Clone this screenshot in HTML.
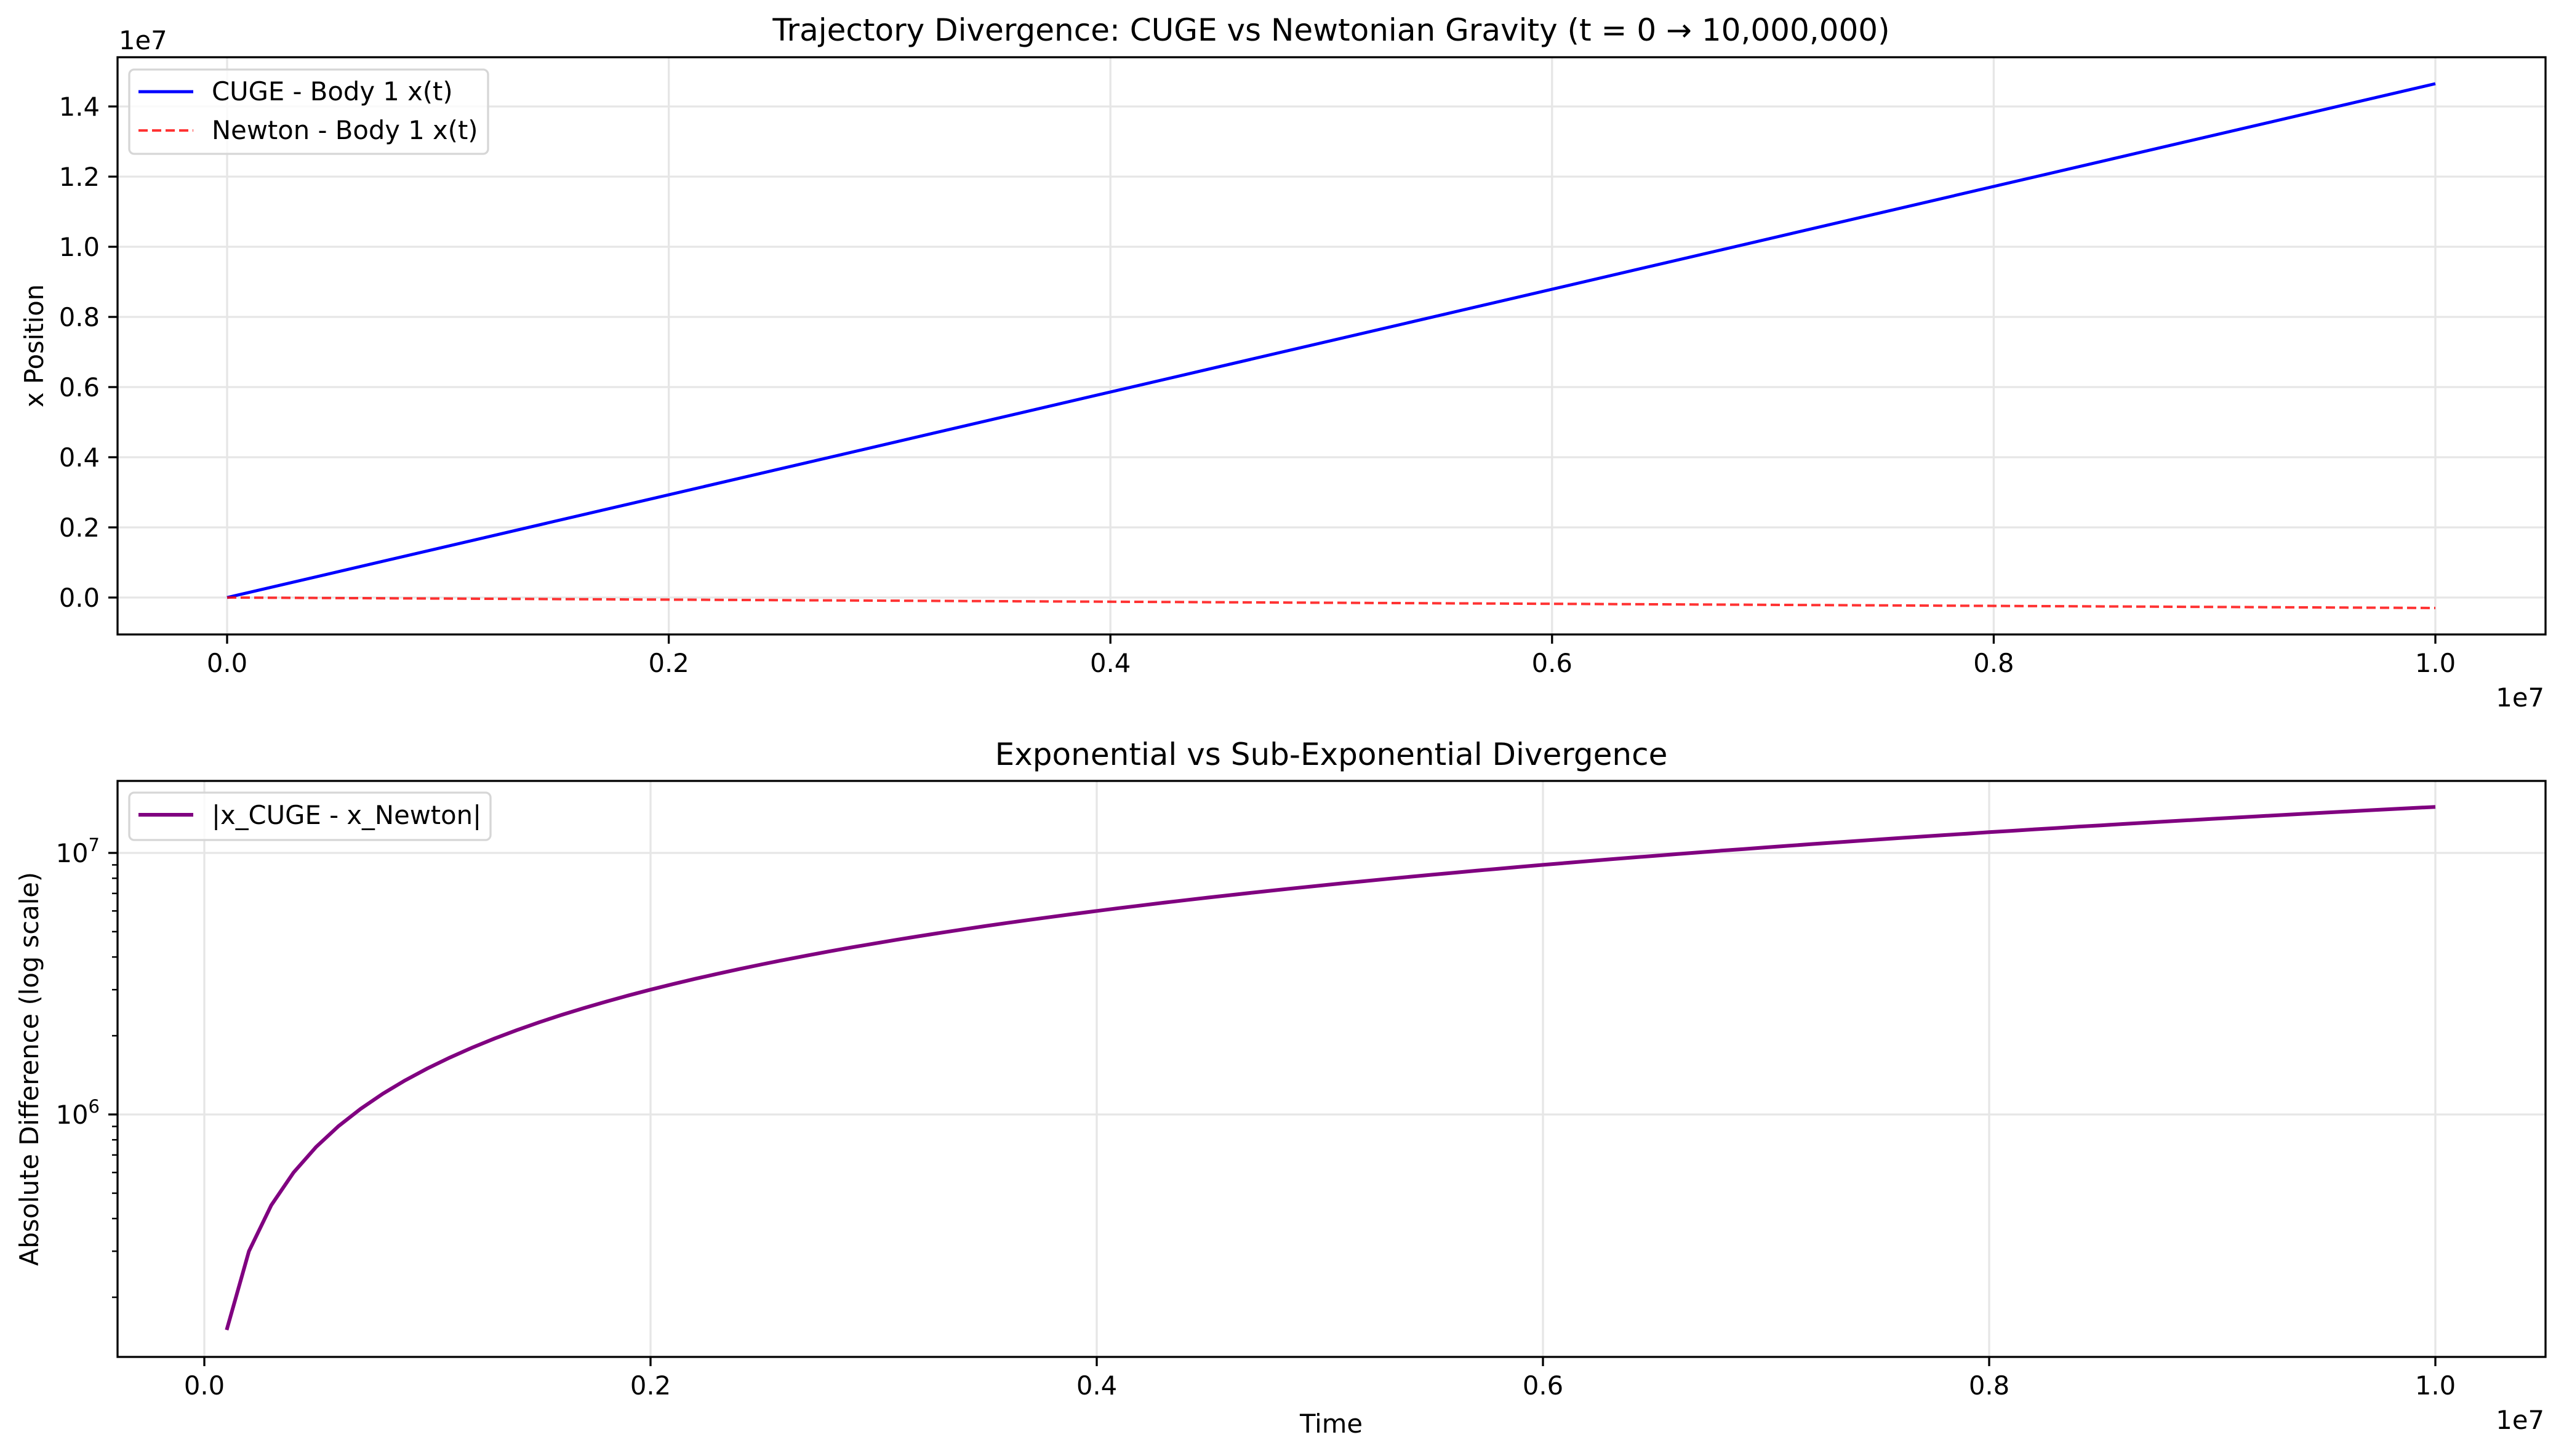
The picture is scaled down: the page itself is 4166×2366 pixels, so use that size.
<!DOCTYPE html>
<html><head><meta charset="utf-8"><style>
html,body{margin:0;padding:0;background:#fff}
svg{display:block}
text{font-family:"DejaVu Sans","Liberation Sans",sans-serif;fill:#000}
</style></head><body>
<svg id="s" xmlns="http://www.w3.org/2000/svg" width="4166" height="2366" viewBox="0 0 4166 2366">
<rect width="4166" height="2366" fill="#fff"/>
<g id="g"></g>
<!-- titles -->
<text x="2163" y="66" font-size="50" text-anchor="middle">Trajectory Divergence: CUGE vs Newtonian Gravity (t = 0 → 10,000,000)</text>
<text x="2163" y="1243" font-size="50" text-anchor="middle">Exponential vs Sub-Exponential Divergence</text>
<text transform="translate(70,562) rotate(-90)" font-size="41.7" text-anchor="middle">x Position</text>
<text transform="translate(62,1737) rotate(-90)" font-size="41.7" text-anchor="middle">Absolute Difference (log scale)</text>
<text x="2163" y="2328" font-size="41.7" text-anchor="middle">Time</text>
<text x="193" y="80" font-size="41.7">1e7</text>
<text x="4134" y="1148" font-size="41.7" text-anchor="end">1e7</text>
<text x="4134" y="2322" font-size="41.7" text-anchor="end">1e7</text>
<!-- legends -->
<rect x="210" y="113" width="583" height="137" rx="8" fill="#fff" fill-opacity="0.8" stroke="#d6d6d6" stroke-width="3.3"/>
<line x1="225" y1="149" x2="314" y2="149" stroke="#0000ff" stroke-width="5"/>
<line x1="225" y1="212" x2="314" y2="212" stroke="#ff0000" stroke-opacity="0.8" stroke-width="4" stroke-dasharray="15,7"/>
<text x="344" y="163" font-size="41.7">CUGE - Body 1 x(t)</text>
<text x="344" y="226" font-size="41.7">Newton - Body 1 x(t)</text>
<rect x="210" y="1288" width="587" height="77" rx="8" fill="#fff" fill-opacity="0.8" stroke="#d6d6d6" stroke-width="3.3"/>
<line x1="225" y1="1324" x2="314" y2="1324" stroke="#800080" stroke-width="6"/>
<text x="344" y="1339" font-size="41.7">|x_CUGE - x_Newton|</text>
</svg>
<script>
var g=document.getElementById('g'),h='';
function L(a,b,c,d,col,w,extra){h+='<line x1="'+a+'" y1="'+b+'" x2="'+c+'" y2="'+d+'" stroke="'+col+'" stroke-width="'+w+'" '+(extra||'')+'/>';}
function T(x,y,s,anchor){h+='<text x="'+x+'" y="'+y+'" font-size="41.7" text-anchor="'+anchor+'">'+s+'</text>';}
var GC='#e6e6e6';
// top axes: left 191 right 4136 top 93 bottom 1031
for(var i=0;i<=5;i++){var x=369+i*717.6;L(x,93,x,1031,GC,3.3);L(x,1031,x,1046,'#000',3.3);T(x,1092,(i*0.2).toFixed(1),'middle');}
for(var i=0;i<=7;i++){var y=971-i*114;L(191,y,4136,y,GC,3.3);L(176,y,191,y,'#000',3.3);T(162,y+15,(i*0.2).toFixed(1),'end');}
// series top
L(369,971,3957,136,'#0000ff',5);
L(369,971,3957,988,'#ff0000',4,'stroke-opacity="0.8" stroke-dasharray="15,7"');
h+='<rect x="191" y="93" width="3945" height="938" fill="none" stroke="#000" stroke-width="3.3"/>';
// bottom axes: top 1269 bottom 2205
function ly(v){return 1811-(Math.log10(v)-6)*425;}
for(var i=0;i<=5;i++){var x=332+i*725;L(x,1269,x,2205,GC,3.3);L(x,2205,x,2220,'#000',3.3);T(x,2266,(i*0.2).toFixed(1),'middle');}
[1e6,1e7].forEach(function(v,j){var y=ly(v);L(191,y,4136,y,GC,3.3);L(176,y,191,y,'#000',3.3);
 h+='<text x="162" y="'+(y+15)+'" font-size="41.7" text-anchor="end">10<tspan dy="-18" font-size="29">'+(j?7:6)+'</tspan></text>';});
[1e5,1e6].forEach(function(d){for(var k=2;k<=9;k++){var y=ly(k*d);if(y>1269&&y<2205)L(182,y,191,y,'#000',2.5);}});
var p='M';for(var k=1;k<=100;k++){var t=k*1e5;p+=(332+t/1e7*3625).toFixed(1)+','+ly(1.5*t).toFixed(1)+' ';}
h+='<path d="'+p+'" fill="none" stroke="#800080" stroke-width="6" stroke-linejoin="round"/>';
h+='<rect x="191" y="1269" width="3945" height="936" fill="none" stroke="#000" stroke-width="3.3"/>';
g.innerHTML=h;
</script>
</body></html>
